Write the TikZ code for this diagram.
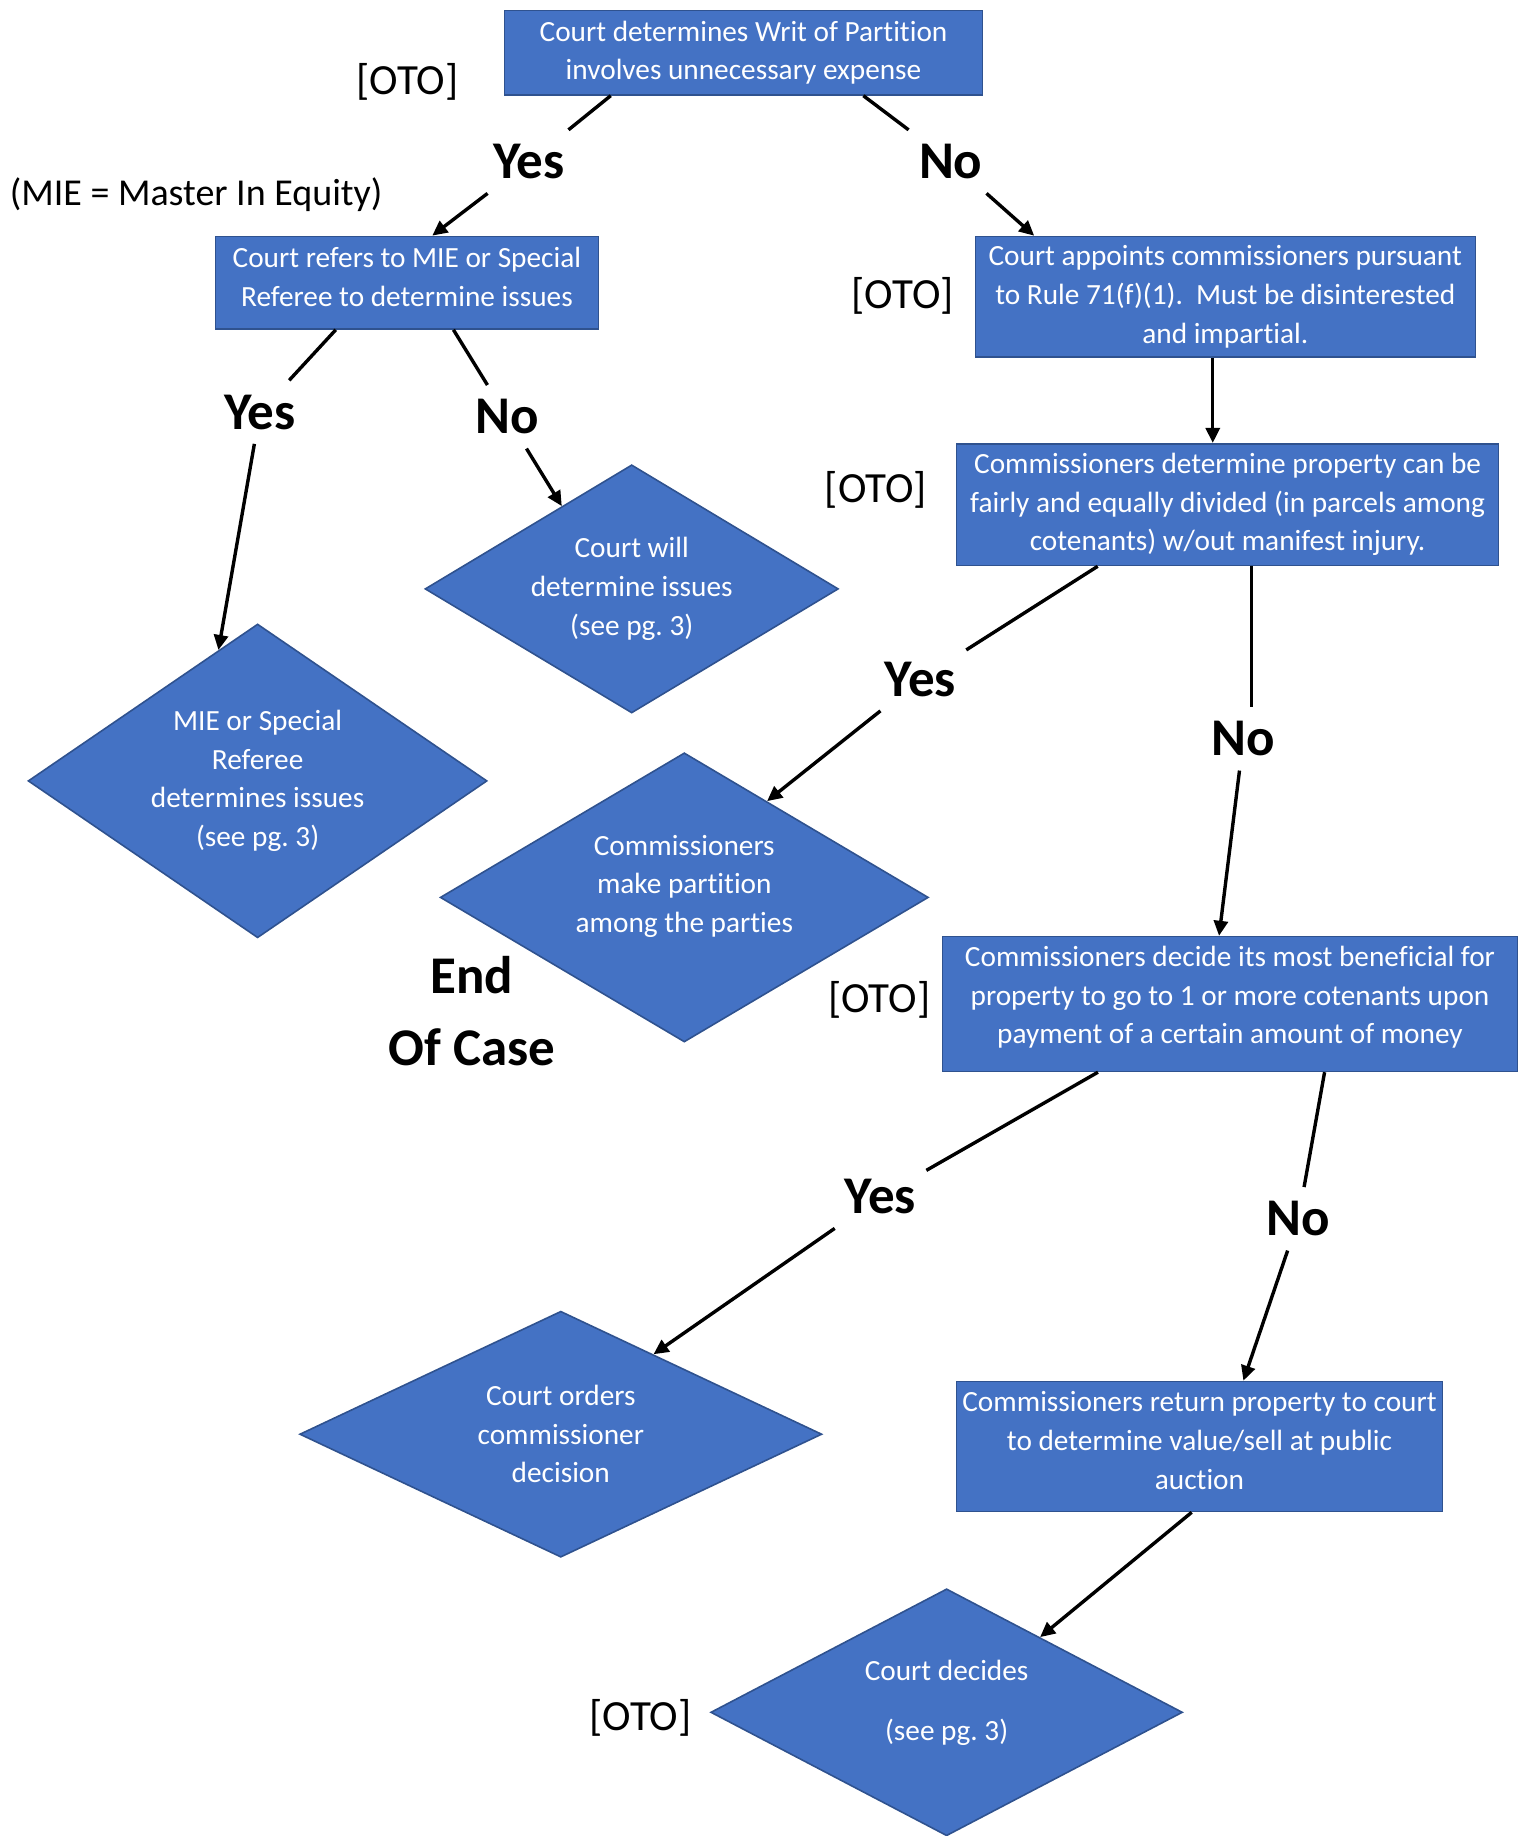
\documentclass[tikz,border=0pt]{standalone}
\usepackage{fontspec}
\setmainfont{Carlito}[Ligatures=NoCommon]
\usetikzlibrary{calc}
\usetikzlibrary{shapes.geometric}
\usetikzlibrary{arrows.meta}
\definecolor{boxblue}{RGB}{68,114,196}
\definecolor{boxedge}{RGB}{47,82,143}
\frenchspacing

\begin{document}
\begin{tikzpicture}[x=0.5pt,y=-0.5pt,
  box/.style={rectangle,fill=boxblue,draw=boxedge,line width=0.8pt,text=white,align=center,
    inner sep=0pt,font=\fontsize{14.65}{19.3}\selectfont},
  dia/.style={diamond,shape aspect=1.7,fill=boxblue,draw=boxedge,line width=0.8pt,text=white,
    align=center,inner sep=0pt,font=\fontsize{14.65}{19.3}\selectfont},
  yn/.style={inner xsep=5pt,inner ysep=7pt,font=\fontsize{26.5}{35.7}\selectfont\bfseries},
  oto/.style={inner sep=0pt,font=\fontsize{21.5}{25}\selectfont},
  note/.style={inner sep=0pt,font=\fontsize{19}{23}\selectfont},
  ln/.style={line width=1.7pt},
  arr/.style={line width=1.7pt,-{Triangle[length=7.5pt,width=7pt]}}]
\useasboundingbox (0,0) rectangle (1529,1836);

% boxes
\node[box,minimum width=238.9pt,minimum height=42.2pt] (writ) at (743.5,52.7)
  {Court determines Writ of Partition\\involves unnecessary expense};
\node[box,minimum width=191.5pt,minimum height=46.3pt,text depth=6pt] (refer) at (406.9,282.7)
  {Court refers to MIE or Special\\Referee to determine issues};
\node[box,minimum width=250pt,minimum height=60.3pt] (appoint) at (1225.3,296.8)
  {Court appoints commissioners pursuant\\to Rule 71(f)(1).\ \ Must be disinterested\\and impartial.};
\node[box,minimum width=271pt,minimum height=60.9pt] (divide) at (1227.6,504.6)
  {Commissioners determine property can be\\fairly and equally divided (in parcels among\\cotenants) w/out manifest injury.};
\node[box,minimum width=287.5pt,minimum height=67.4pt,text depth=9pt] (benefit) at (1230,1004)
  {Commissioners decide its most beneficial for\\property to go to 1 or more cotenants upon\\payment of a certain amount of money};
\node[box,minimum width=243pt,minimum height=65pt,text depth=6pt] (return) at (1199.5,1446.5)
  {Commissioners return property to court\\to determine value/sell at public\\auction};

% diamonds
\node[dia,minimum width=206.7pt,minimum height=124.1pt] (courtwill) at (631.7,588.9)
  {Court will\\determine issues\\(see pg. 3)};
\node[dia,minimum width=229.5pt,minimum height=156.9pt] (miedet) at (257.6,780.9)
  {MIE or Special\\Referee\\determines issues\\(see pg. 3)};
\node[dia,minimum width=244.1pt,minimum height=144.6pt,text depth=13.5pt] (partition) at (684.3,897.4)
  {Commissioners\\make partition\\among the parties};
\node[dia,minimum width=261.1pt,minimum height=123pt] (orders) at (560.8,1434.2)
  {Court orders\\commissioner\\decision};
\node[dia,minimum width=235.9pt,minimum height=123.5pt,text depth=12pt] (decides) at (946.6,1712.3)
  {Court decides\\[11pt](see pg. 3)};

% side notes
\node[oto] (oto1) at (407.4,82) {[OTO]};
\node[note,anchor=west] (mienote) at (9.4,194.4) {(MIE = Master In Equity)};
\node[oto] (oto2) at (902.7,296.2) {[OTO]};
\node[oto] (oto3) at (875.8,489.4) {[OTO]};
\node[oto] (oto4) at (879.3,999.9) {[OTO]};
\node[oto] (oto5) at (640.4,1717.6) {[OTO]};
\node[yn,align=center] (endcase) at (471.8,1011) {End\\Of Case};

% yes / no
\node[yn] (yes1) at (529.2,161.6) {Yes};
\node[yn] (no1) at (950.7,161.6) {No};
\node[yn] (yes2) at (259.9,412.1) {Yes};
\node[yn] (no2) at (507,416.8) {No};
\node[yn] (yes3) at (920.3,679.1) {Yes};
\node[yn] (no3) at (1243.4,738.8) {No};
\node[yn] (yes4) at (880.4,1196.6) {Yes};
\node[yn] (no4) at (1298.4,1218.8) {No};

% connectors
\draw[ln] ($(writ.south west)!.223!(writ.south east)$) -- (yes1);
\draw[arr] (yes1) -- ($(refer.north west)!.566!(refer.north east)$);
\draw[ln] ($(writ.south west)!.75!(writ.south east)$) -- (no1);
\draw[arr] (no1) -- ($(appoint.north west)!.119!(appoint.north east)$);
\coordinate (c1) at ($(appoint.south west)!.475!(appoint.south east)$);
\draw[arr] (c1) -- (c1 |- divide.north);

\draw[ln] ($(refer.south west)!.315!(refer.south east)$) -- (yes2);
\draw[arr] (yes2) -- ($(miedet.north)!.17!(miedet.west)$);
\draw[ln] ($(refer.south west)!.621!(refer.south east)$) -- (no2);
\draw[arr] (no2) -- ($(courtwill.north)!.337!(courtwill.west)$);

\draw[ln] ($(divide.south west)!.261!(divide.south east)$) -- (yes3);
\draw[arr] (yes3) -- ($(partition.north)!.338!(partition.east)$);
\coordinate (c2) at ($(divide.south west)!.544!(divide.south east)$);
\draw[ln] (c2) -- (c2 |- no3.north);
\draw[arr] (no3) -- ($(benefit.north west)!.481!(benefit.north east)$);

\draw[ln] ($(benefit.south west)!.271!(benefit.south east)$) -- (yes4);
\draw[arr] (yes4) -- ($(orders.north)!.354!(orders.east)$);
\draw[ln] ($(benefit.south west)!.664!(benefit.south east)$) -- (no4);
\draw[arr] (no4) -- ($(return.north west)!.59!(return.north east)$);
\draw[arr] ($(return.south west)!.484!(return.south east)$) -- ($(decides.north)!.395!(decides.east)$);
\end{tikzpicture}
\end{document}
